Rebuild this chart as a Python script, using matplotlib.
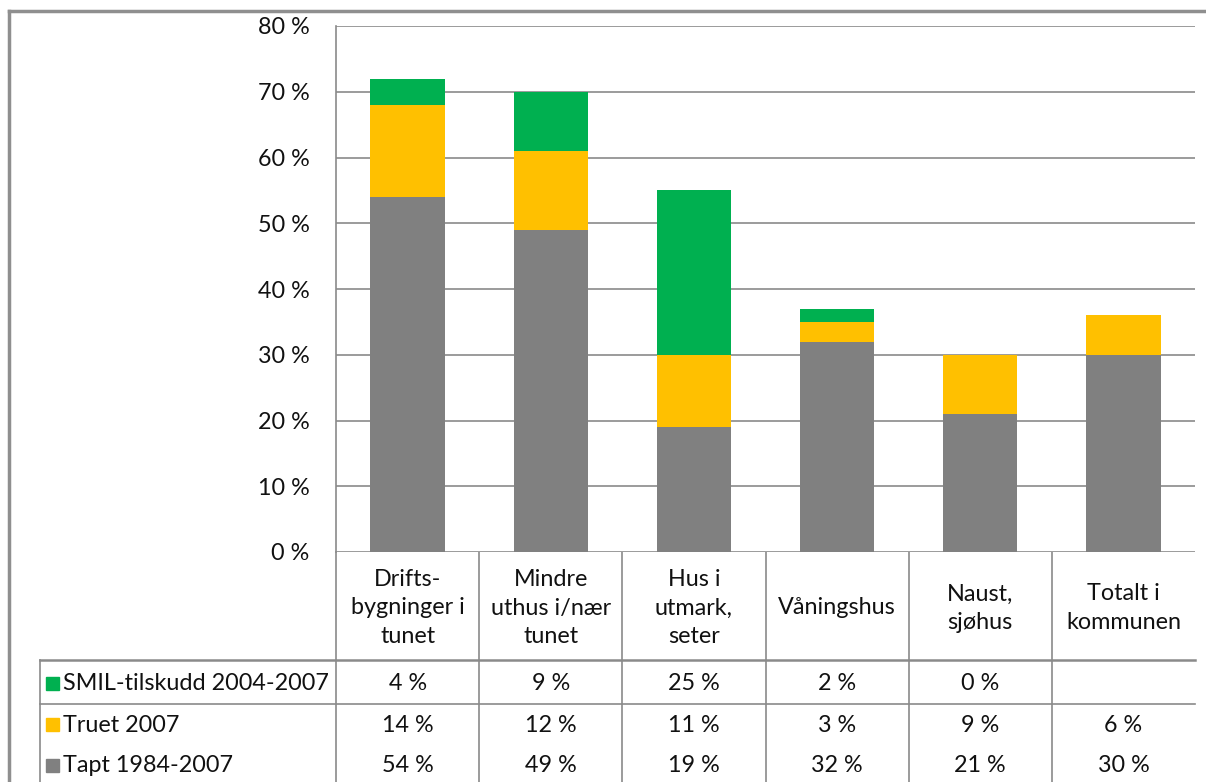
import matplotlib
matplotlib.use("Agg")
import matplotlib.pyplot as plt
from matplotlib.transforms import blended_transform_factory
from matplotlib.patches import Rectangle
from matplotlib.lines import Line2D

categories = ["Drifts-\nbygninger i\ntunet", "Mindre\nuthus i/nær\ntunet", "Hus i\nutmark,\nseter",
              "Våningshus", "Naust,\nsjøhus", "Totalt i\nkommunen"]
series_names = ["SMIL-tilskudd 2004-2007", "Truet 2007", "Tapt 1984-2007"]
smil = [4, 9, 25, 2, 0, None]
truet = [14, 12, 11, 3, 9, 6]
tapt = [54, 49, 19, 32, 21, 30]
colors = ["#00B050", "#FFC000", "#808080"]
yticks = [0, 10, 20, 30, 40, 50, 60, 70, 80]

plt.rcParams['font.family'] = ['Lato', 'DejaVu Sans']
FS = 16.8
LINE = "#8a8a8a"
TXT = "#111111"

W, H = 1206, 782
fig = plt.figure(figsize=(W / 100, H / 100), dpi=100)

# overlay axes in pixel coordinates for table/frame
tab = fig.add_axes([0, 0, 1, 1])
tab.set_xlim(0, W)
tab.set_ylim(H, 0)
tab.axis("off")

ax = fig.add_axes([336 / W, 1 - 552 / H, (1195 - 336) / W, (552 - 26) / H])
x = list(range(len(categories)))
smil_v = [v if v is not None else 0 for v in smil]
bottom2 = [a + b for a, b in zip(tapt, truet)]
ax.bar(x, tapt, width=0.52, color=colors[2], zorder=3)
ax.bar(x, truet, width=0.52, bottom=tapt, color=colors[1], zorder=3)
ax.bar(x, smil_v, width=0.52, bottom=bottom2, color=colors[0], zorder=3)
ax.set_xlim(-0.5, len(categories) - 0.5)
ax.set_ylim(0, 80)
ax.set_yticks(yticks)
ax.set_yticklabels([f"{t} %" for t in yticks], fontsize=FS, color=TXT)
ax.tick_params(axis="y", length=0, pad=19)
ax.set_xticks([])
ax.yaxis.grid(True, color=LINE, lw=1.2)
ax.set_axisbelow(True)
for s in ["top", "right", "bottom"]:
    ax.spines[s].set_visible(False)
ax.spines["left"].set_color(LINE)
ax.spines["left"].set_linewidth(1.2)

tr = blended_transform_factory(ax.transData, tab.transData)

# table lines
tab.plot([336, 336], [552, H], color=LINE, lw=1.2)
tab.plot([40, 40], [660, H], color=LINE, lw=1.2)
tab.plot([40, 1195], [660, 660], color=LINE, lw=1.8)
tab.plot([40, 1195], [704, 704], color=LINE, lw=1.2)
for i in range(len(categories) - 1):
    tab.plot([i + 0.5, i + 0.5], [552, H], color=LINE, lw=1.2, transform=tr)

# header labels
for i, c in enumerate(categories):
    tab.text(i, 608, c, transform=tr, ha="center", va="center", fontsize=FS,
             linespacing=1.42, color=TXT)

# data rows
row_y = [684, 725, 766]
for r, (name, vals) in enumerate(zip(series_names, [smil, truet, tapt])):
    tab.add_patch(Rectangle((46, row_y[r] - 7), 13, 13, color=colors[r]))
    tab.text(63, row_y[r], name, ha="left", va="center", fontsize=FS, color=TXT)
    for i, v in enumerate(vals):
        if v is not None:
            tab.text(i, row_y[r], f"{v} %", transform=tr, ha="center", va="center",
                     fontsize=FS, color=TXT)

# outer frame
fig.add_artist(Line2D([9 / W, 1], [1 - 11 / H, 1 - 11 / H], color="#8f8f8f", lw=2.5))
fig.add_artist(Line2D([9 / W, 9 / W], [1 - 11 / H, 0], color="#8f8f8f", lw=2.5))

fig.savefig("out.png", dpi=100)
